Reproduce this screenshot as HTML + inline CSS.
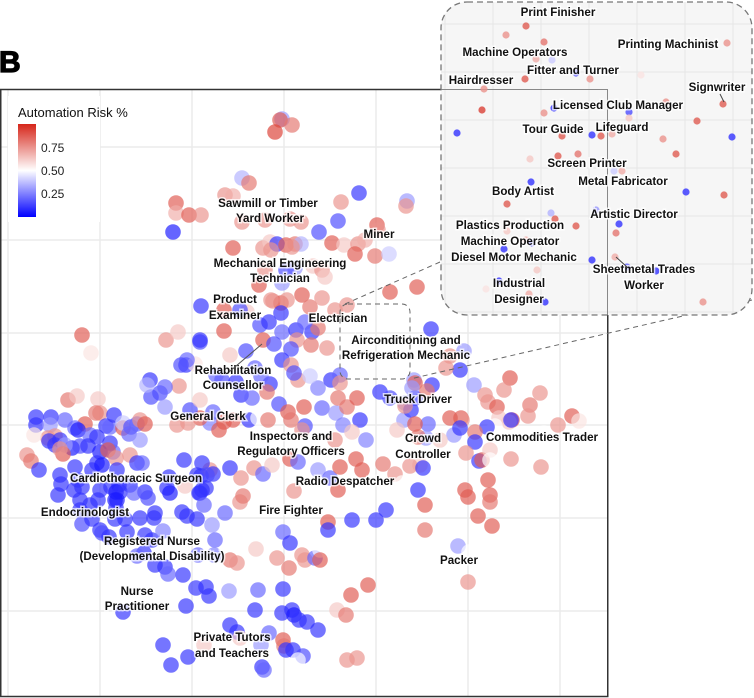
<!DOCTYPE html>
<html><head><meta charset="utf-8"><style>
html,body{margin:0;padding:0;background:#fff;}
svg{display:block;font-family:"Liberation Sans",Arial,sans-serif;}
.lbl{font-weight:bold;font-size:11.6px;fill:#111;text-anchor:middle;paint-order:stroke;stroke:rgba(255,255,255,0.75);stroke-width:3px;}
</style></head><body>
<svg id="chart" width="754" height="698" viewBox="0 0 754 698">
<text x="-1" y="72" font-size="30" font-weight="900" fill="#000" stroke="#000" stroke-width="1.2">B</text>
<g id="grid"></g>
<g id="pts"></g>
<rect x="0.75" y="89.5" width="607" height="607" fill="none" stroke="#333" stroke-width="1.5"/>
<g id="legend">
<rect x="8" y="96" width="92" height="126" fill="#fff"/>
<text x="18" y="117" font-size="13" fill="#111">Automation Risk %</text>
<defs><linearGradient id="cb" x1="0" y1="0" x2="0" y2="1"><stop offset="0" stop-color="#d6261a"/><stop offset="0.5" stop-color="#ffffff"/><stop offset="1" stop-color="#0000ff"/></linearGradient></defs>
<rect x="18" y="124" width="18" height="93" fill="url(#cb)"/>
<text x="41" y="152" font-size="12" fill="#222">0.75</text>
<text x="41" y="175" font-size="12" fill="#222">0.50</text>
<text x="41" y="198" font-size="12" fill="#222">0.25</text>
</g>
<g id="labels"></g>
<line x1="229" y1="372" x2="262" y2="344" stroke="#555" stroke-width="1"/>
<rect x="340" y="304" width="70" height="75" rx="8" fill="none" stroke="#666" stroke-dasharray="5,4"/>
<line x1="440" y1="262" x2="345" y2="304" stroke="#666" stroke-dasharray="5,4"/>
<line x1="752" y1="300" x2="410" y2="379" stroke="#666" stroke-dasharray="5,4"/>
<g id="inset">
<defs><clipPath id="ic"><rect x="441" y="2" width="311" height="313" rx="26"/></clipPath></defs>
<rect x="441" y="2" width="311" height="313" rx="26" fill="#f6f6f6"/>
<g clip-path="url(#ic)" id="igrid"></g>
<g clip-path="url(#ic)"><polyline points="441,89.5 607.5,89.5 607.5,315" fill="none" stroke="#888" stroke-width="1"/></g>
<g id="ipts" clip-path="url(#ic)"></g>
<rect x="441" y="2" width="311" height="313" rx="26" fill="none" stroke="#777" stroke-width="1.3" stroke-dasharray="6,4"/>
<g id="ilabels"></g>
<line x1="720" y1="94" x2="724" y2="102" stroke="#444"/>
<line x1="616" y1="257" x2="627" y2="267" stroke="#444"/>
</g>
</svg>
<script>
// Main scatter data (embedding coordinates, risk 0..1)
const mainX=[282,280,292,275,242,249,225,233,176,176,189,201,173,242,265,290,301,359,341,407,406,338,319,377,378,233,263,270,277,286,295,301,271,292,332,344,358,355,375,389,365,295,286,265,313,322,325,259,282,302,390,417,273,281,287,310,322,281,247,335,347,
224,201,271,260,269,282,296,312,297,311,327,263,274,291,318,305,200,186,195,230,282,291,298,294,318,331,340,340,310,222,241,252,270,267,279,288,304,291,305,302,322,336,347,357,338,343,360,352,366,233,249,258,268,210,200,219,188,213,224,380,390,405,415,404,428,426,418,397,184,197,210,230,241,254,263,272,290,298,318,330,340,356,362,383,395,420,418,294,338,335,185,200,
82,91,166,178,224,200,187,181,150,151,160,179,68,77,98,100,85,96,165,36,36,51,65,50,48,55,34,75,78,90,106,110,114,123,123,131,137,140,145,129,140,49,55,60,72,80,88,97,100,110,113,108,116,130,27,31,39,65,63,60,
60,75,78,92,97,102,117,119,137,142,169,167,202,201,213,207,206,202,61,58,74,80,82,100,111,116,120,117,130,145,134,170,199,148,155,80,90,98,115,116,82,92,100,115,125,127,140,154,182,187,197,204,212,225,240,243,
102,109,145,152,163,144,137,155,165,183,168,198,215,214,230,237,229,206,196,209,186,123,256,283,290,277,289,283,292,282,294,307,318,299,269,261,283,284,293,286,303,298,262,264,163,171,188,230,237,347,357,368,351,337,204,328,302,305,352,328,315,320,346,376,386,258,320,240,255,240,
216,177,147,165,190,200,240,246,255,236,261,
431,464,450,460,446,510,543,474,414,415,432,412,427,485,488,504,540,530,497,528,499,512,509,511,495,572,579,558,544,487,475,461,462,450,454,460,475,466,479,482,490,490,511,541,411,405,415,440,410,423,402,488,465,468,490,490,478,492,425,425,458,469,468];
const mainY=[119,120,125,132,178,183,195,196,203,213,215,215,232,222,220,219,222,193,202,201,206,221,232,225,230,248,248,242,244,245,244,244,250,247,243,245,244,254,256,254,240,268,270,270,266,270,277,285,283,295,292,287,301,303,300,307,298,313,312,310,305,
310,306,300,325,322,332,330,332,340,345,348,340,344,349,328,322,342,365,364,355,360,365,380,373,388,380,375,383,376,380,395,398,384,392,404,412,407,420,426,430,408,413,407,398,398,425,420,432,440,420,420,418,420,423,418,430,423,412,422,392,398,403,398,420,424,438,437,430,460,475,470,468,478,468,474,465,459,462,470,478,467,459,470,464,474,465,490,491,490,440,486,493,
335,353,340,332,331,340,360,365,380,397,393,386,400,396,399,413,424,413,387,417,425,417,420,425,438,436,435,428,430,435,426,427,415,428,423,427,424,420,424,434,440,441,445,440,448,446,446,437,452,443,452,450,458,455,455,461,470,445,454,449,
475,467,480,470,463,465,470,485,463,463,477,488,463,476,474,475,488,490,484,495,490,500,487,490,487,492,492,500,485,492,493,493,493,498,513,510,505,500,500,508,524,519,530,519,519,532,518,518,512,516,519,505,525,513,502,496,
533,537,535,540,531,553,556,565,567,575,574,555,540,555,560,563,591,587,588,596,606,612,549,532,543,558,568,589,610,613,615,622,630,620,633,645,640,646,650,650,656,660,667,670,645,665,657,625,632,660,658,585,595,610,645,522,555,560,520,530,558,550,615,520,510,590,560,580,610,638,
375,425,385,407,410,400,310,351,368,382,376,
329,351,356,370,368,378,378,385,380,383,385,388,391,395,402,390,393,405,407,416,418,420,422,420,426,416,421,425,433,427,432,418,420,418,435,428,442,453,461,460,450,460,459,467,410,406,424,440,466,468,483,480,490,497,495,502,516,526,505,530,546,552,582];
const mainRisk=[0.3,0.8,0.75,0.85,0.35,0.75,0.7,0.65,0.8,0.65,0.8,0.7,0.05,0.7,0.7,0.7,0.7,0.1,0.7,0.3,0.7,0.15,0.15,0.8,0.7,0.8,0.7,0.6,0.1,0.8,0.75,0.35,0.7,0.7,0.8,0.6,0.7,0.8,0.75,0.4,0.65,0.3,0.15,0.7,0.6,0.7,0.6,0.8,0.3,0.8,0.8,0.8,0.7,0.8,0.7,0.75,0.7,0.1,0.6,0.7,0.7,
0.8,0.1,0.7,0.15,0.1,0.2,0.1,0.1,0.7,0.75,0.7,0.8,0.15,0.15,0.75,0.2,0.15,0.1,0.55,0.6,0.1,0.7,0.7,0.15,0.25,0.1,0.2,0.7,0.4,0.15,0.1,0.2,0.1,0.75,0.15,0.8,0.8,0.75,0.15,0.7,0.2,0.3,0.75,0.8,0.75,0.25,0.1,0.6,0.25,0.8,0.1,0.5,0.75,0.25,0.8,0.8,0.7,0.2,0.8,0.1,0.15,0.3,0.1,0.3,0.2,0.3,0.75,0.6,0.1,0.1,0.7,0.1,0.7,0.7,0.2,0.6,0.8,0.2,0.3,0.2,0.8,0.8,0.8,0.75,0.7,0.6,0.1,0.7,0.8,0.7,0.6,0.1,
0.8,0.55,0.7,0.6,0.8,0.1,0.2,0.15,0.1,0.15,0.15,0.7,0.75,0.6,0.6,0.7,0.8,0.75,0.2,0.1,0.1,0.1,0.2,0.3,0.7,0.7,0.55,0.2,0.05,0.2,0.1,0.2,0.1,0.8,0.4,0.15,0.2,0.7,0.8,0.2,0.3,0.1,0.1,0.1,0.05,0.15,0.1,0.1,0.05,0.1,0.2,0.8,0.7,0.7,0.7,0.75,0.1,0.3,0.8,0.7,
0.1,0.1,0.15,0.1,0.1,0.05,0.1,0.1,0.1,0.2,0.1,0.1,0.1,0.1,0.1,0.15,0.1,0.1,0.1,0.1,0.1,0.1,0.1,0.1,0.1,0.05,0.1,0.05,0.1,0.1,0.2,0.05,0.1,0.15,0.1,0.1,0.1,0.1,0.05,0.1,0.15,0.1,0.1,0.1,0.1,0.1,0.1,0.1,0.1,0.1,0.1,0.2,0.3,0.2,0.7,0.75,
0.15,0.1,0.1,0.1,0.25,0.1,0.2,0.1,0.1,0.1,0.2,0.2,0.2,0.25,0.75,0.7,0.3,0.1,0.1,0.1,0.1,0.1,0.6,0.2,0.1,0.7,0.75,0.1,0.1,0.1,0.05,0.1,0.1,0.1,0.2,0.3,0.8,0.75,0.1,0.1,0.15,0.5,0.1,0.2,0.1,0.1,0.1,0.1,0.1,0.7,0.7,0.8,0.8,0.6,0.6,0.8,0.7,0.7,0.1,0.1,0.2,0.5,0.75,0.1,0.1,0.2,0.8,0.5,0.1,0.6,
0.2,0.7,0.35,0.3,0.15,0.6,0.15,0.15,0.2,0.1,0.2,
0.1,0.3,0.7,0.1,0.7,0.8,0.5,0.3,0.3,0.8,0.1,0.3,0.75,0.7,0.7,0.7,0.7,0.75,0.8,0.7,0.6,0.8,0.6,0.1,0.5,0.8,0.55,0.7,0.5,0.1,0.75,0.8,0.7,0.8,0.3,0.1,0.1,0.7,0.1,0.8,0.6,0.5,0.7,0.7,0.1,0.7,0.8,0.6,0.7,0.1,0.5,0.8,0.8,0.8,0.8,0.75,0.8,0.8,0.8,0.75,0.3,0.5,0.7];
// Inset (zoomed) data
const insetX=[526,506,544,536,552,576,525,590,641,727,484,482,544,554,666,629,723,629,697,457,562,592,601,612,663,732,558,578,530,676,614,622,531,686,724,507,596,551,555,576,619,616,507,526,532,504,592,615,537,627,656,499,486,529,545,703];
const insetY=[26,35,42,59,60,73,79,79,75,43,89,110,113,108,102,112,104,118,121,133,136,135,136,134,139,137,156,154,159,154,171,171,182,192,195,204,210,213,219,226,224,233,231,240,243,249,260,257,270,267,271,281,289,294,302,302];
const insetRisk=[0.8,0.7,0.75,0.65,0.4,0.1,0.8,0.7,0.55,0.7,0.7,0.85,0.7,0.1,0.7,0.15,0.8,0.6,0.8,0.1,0.8,0.1,0.8,0.65,0.7,0.1,0.8,0.75,0.6,0.8,0.4,0.65,0.1,0.1,0.8,0.8,0.3,0.35,0.8,0.8,0.1,0.75,0.6,0.65,0.1,0.1,0.1,0.65,0.6,0.2,0.1,0.1,0.55,0.65,0.1,0.7];
const gridXTicks=[8,100,192,284,376,468,560];
const gridYTicks=[147,240,333,425,518,611];
const mainLabels=[["Sawmill or Timber",268,207],["Yard Worker",270,222],["Miner",379,238],["Mechanical Engineering",280,267],["Technician",280,282],["Product",235,303],["Examiner",235,319],["Electrician",338,322],["Airconditioning and",406,344],["Refrigeration Mechanic",406,359],["Rehabilitation",233,374],["Counsellor",233,389],["General Clerk",208,420],["Truck Driver",418,403],["Inspectors and",291,440],["Regulatory Officers",291,455],["Crowd",423,442],["Controller",423,458],["Commodities Trader",542,441],["Cardiothoracic Surgeon",136,482],["Radio Despatcher",345,485],["Endocrinologist",85,516],["Fire Fighter",291,514],["Registered Nurse",152,545],["(Developmental Disability)",152,560],["Packer",459,564],["Nurse",137,595],["Practitioner",137,610],["Private Tutors",232,641],["and Teachers",232,657]];
const insetLabels=[["Print Finisher",558,16],["Machine Operators",515,56],["Printing Machinist",668,48],["Fitter and Turner",573,74],["Hairdresser",481,84],["Signwriter",717,91],["Licensed Club Manager",618,109],["Tour Guide",553,133],["Lifeguard",622,131],["Screen Printer",587,167],["Metal Fabricator",623,185],["Body Artist",523,195],["Artistic Director",634,218],["Plastics Production",510,229],["Machine Operator",510,245],["Diesel Motor Mechanic",514,261],["Sheetmetal Trades",644,273],["Worker",644,289],["Industrial",519,287],["Designer",519,303]];

const NS="http://www.w3.org/2000/svg";
function xScale(v){return 0+(v-0)*1;}
function yScale(v){return 0+(v-0)*1;}
function color(r){
  let c;
  if(r<0.5){const t=r/0.5;c=[Math.round(255*t),Math.round(255*t),255];}
  else{const t=Math.min(1,(r-0.5)/0.4);c=[Math.round(255+(214-255)*t),Math.round(255+(38-255)*t),Math.round(255+(26-255)*t)];}
  return "rgb("+c.join(",")+")";
}
function mk(tag,attrs,parent){const e=document.createElementNS(NS,tag);for(const k in attrs)e.setAttribute(k,attrs[k]);parent.appendChild(e);return e;}
const grid=document.getElementById("grid");
gridXTicks.forEach(v=>{const l=mk("line",{x1:xScale(v),x2:xScale(v),y1:90,y2:696,stroke:"#ebebeb","stroke-width":1.5},grid);

});
gridYTicks.forEach(v=>{const l=mk("line",{x1:1,x2:607,y1:yScale(v),y2:yScale(v),stroke:"#ebebeb","stroke-width":1.5},grid);

});
const pts=document.getElementById("pts");
for(let i=0;i<mainX.length;i++){
  const c=mk("circle",{cx:xScale(mainX[i]),cy:yScale(mainY[i]),r:7.8,fill:color(mainRisk[i]),"fill-opacity":0.68},pts);
  
  
}
const lg=document.getElementById("labels");
mainLabels.forEach(a=>{const t=mk("text",{x:a[1],y:a[2],class:"lbl"},lg);t.textContent=a[0];

});
const ig=document.getElementById("igrid");
for(let x=445;x<752;x+=48){const l=mk("line",{x1:x,x2:x,y1:0,y2:320,stroke:"#e6e6e6"},ig);

}
for(let y=24;y<320;y+=48){const l=mk("line",{x1:440,x2:754,y1:y,y2:y,stroke:"#e6e6e6"},ig);

}
const ip=document.getElementById("ipts");
for(let i=0;i<insetX.length;i++){
  const c=mk("circle",{cx:xScale(insetX[i]),cy:yScale(insetY[i]),r:3.6,fill:color(insetRisk[i]),"fill-opacity":0.8},ip);
  
  
}
const il=document.getElementById("ilabels");
insetLabels.forEach(a=>{const t=mk("text",{x:a[1],y:a[2],class:"lbl"},il);t.textContent=a[0];

});
</script>
</body></html>
